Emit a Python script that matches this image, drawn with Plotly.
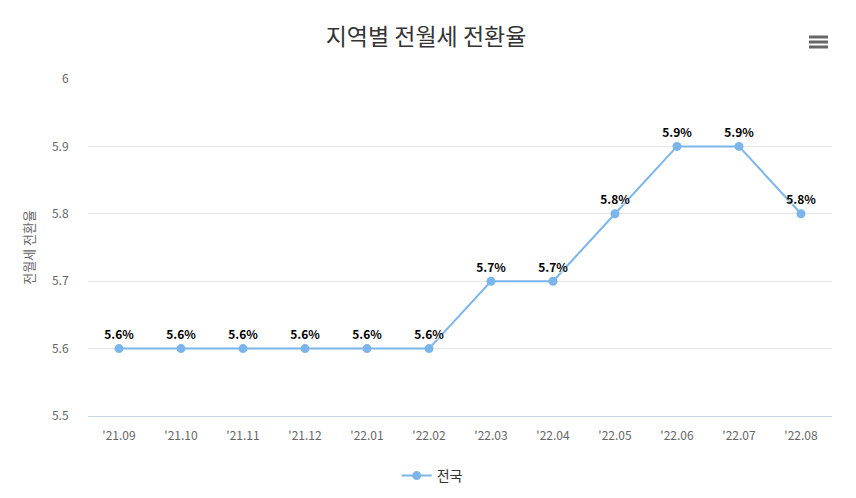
import plotly.graph_objects as go

# 월별 전월세 전환율 (전국)
months = ["'21.09", "'21.10", "'21.11", "'21.12", "'22.01", "'22.02",
          "'22.03", "'22.04", "'22.05", "'22.06", "'22.07", "'22.08"]
rate = [5.6, 5.6, 5.6, 5.6, 5.6, 5.6, 5.7, 5.7, 5.8, 5.9, 5.9, 5.8]
y_ticks = [5.5, 5.6, 5.7, 5.8, 5.9, 6]

FONT = "Noto Sans CJK KR, Segoe UI, sans-serif"
LINE = "#7cb5ec"

# 페이지 본문 여백(8px)을 고려한 플롯 영역 (figure 좌표)
L, T, W, H = 80, 71, 744, 337

fig = go.Figure()
fig.add_trace(go.Scatter(
    x=months, y=rate, name="전국",
    mode="lines+markers+text",
    line=dict(color=LINE, width=2),
    marker=dict(color=LINE, size=9),
    text=[f"{v}%" for v in rate],
    textposition="top center",
    textfont=dict(family=FONT, size=12, color="#000000", weight="bold",
                  shadow="1px 1px 1px #ffffff"),
    cliponaxis=False,
))

fig.update_layout(
    width=856, height=498,
    paper_bgcolor="white", plot_bgcolor="white",
    margin=dict(l=L, r=856 - L - W, t=T, b=498 - T - H, autoexpand=False),
    font=dict(family=FONT, color="#666666", size=12),
    title=dict(text="지역별 전월세 전환율", x=418 / 856,
               xanchor="center", y=1 - 29 / 498, yanchor="middle",
               font=dict(family=FONT, size=23, color="#333333")),
    showlegend=True,
    legend=dict(orientation="h", x=396 / 856, xanchor="center",
                yref="container", y=1 - 468 / 498, yanchor="middle",
                font=dict(size=14, color="#333333")),
    xaxis=dict(type="category", range=[-0.5, 11.5], showgrid=False,
               automargin=False,
               showline=True, linecolor="#ccd6eb", linewidth=1,
               ticks="outside", ticklen=9, tickcolor="rgba(0,0,0,0)",
               tickfont=dict(size=12, color="#666666")),
    yaxis=dict(range=[5.5, 6], tickvals=y_ticks, ticktext=[str(t) for t in y_ticks],
               automargin=False,
               showgrid=True, gridcolor="#e6e6e6", zeroline=False,
               ticks="outside", ticklen=16, tickcolor="rgba(0,0,0,0)",
               tickfont=dict(size=12, color="#666666"),
               title=dict(text="전월세 전환율", standoff=14,
                          font=dict(size=13, color="#666666"))),
)

# 우측 상단 메뉴 아이콘 (플롯 영역 기준 paper 좌표)
for yy in (29, 34, 39):
    fig.add_shape(type="line", xref="paper", yref="paper",
                  x0=(801 - L) / W, x1=(820 - L) / W,
                  y0=(T + H - yy) / H, y1=(T + H - yy) / H,
                  line=dict(color="#666666", width=3))

fig.write_html("out.html")
